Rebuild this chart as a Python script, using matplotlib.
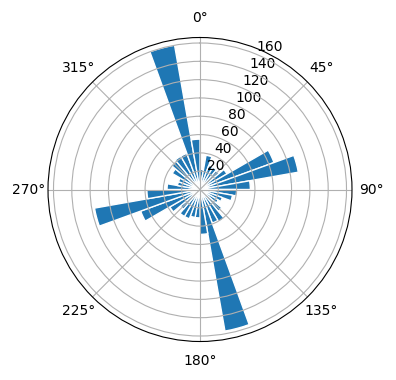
import numpy as np
import matplotlib

matplotlib.use("Agg")

import matplotlib.pyplot as plt

# bin centres in degrees (clockwise from north) and counts per bin
bin_centers = np.arange(5, 360, 10)
counts = [22, 38, 28, 28, 27, 34, 86, 109, 55, 40, 36, 26,
          23, 31, 41, 39, 157, 49, 31, 31, 34, 34, 28, 38,
          69, 117, 58, 36, 25, 25, 35, 40, 42, 42, 160, 55]

r_max = 166
r_ticks = [20, 40, 60, 80, 100, 120, 140, 160]


def main() -> None:
    fig = plt.figure(figsize=(3.96, 3.8), dpi=100)
    ax = fig.add_axes([0.1212, 0.1013, 0.7677, 0.8], projection="polar")
    ax.set_theta_zero_location("N")
    ax.set_theta_direction(-1)

    theta = np.deg2rad(bin_centers)
    ax.bar(theta, counts, width=np.deg2rad(10), color="#1f77b4",
           edgecolor="white", linewidth=1.0)

    ax.set_rmax(r_max)
    ax.set_rticks(r_ticks)
    ax.grid(True)

    fig.savefig("out.png", dpi=100)


if __name__ == "__main__":
    main()
